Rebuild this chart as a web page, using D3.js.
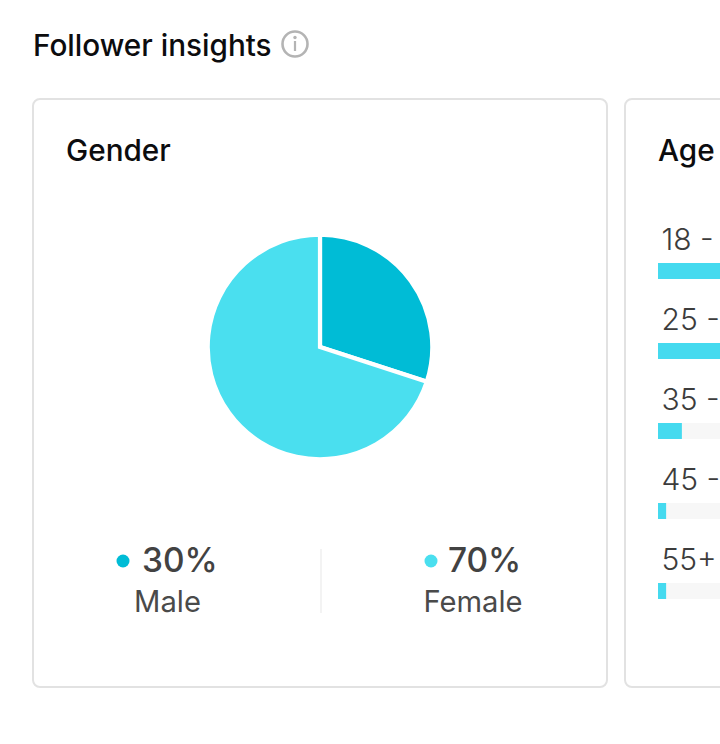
<!DOCTYPE html>
<html><head><meta charset="utf-8">
<script src="https://cdn.jsdelivr.net/npm/d3@7/dist/d3.min.js"></script>
<style>html,body{margin:0;padding:0;background:#fff;overflow:hidden}svg{display:block}text{font-family:Inter,"Noto Sans",sans-serif}</style>
</head><body><svg id="c" width="720" height="744"></svg>
<script>
const genderLabels = ["Male", "Female"];
const genderValues = [30, 70];
const genderColors = ["#00bcd6", "#4adfef"];
const ageLabels = ["18 - 24", "25 - 34", "35 - 44", "45 - 54", "55+"];
const ageValues = [45, 44, 4.7, 1.6, 1.6];

const svg = d3.select("#c");
const text = (x, y, s, size, fill, weight, anchor) => svg.append("text")
  .attr("x", x).attr("y", y).attr("font-size", size).attr("fill", fill)
  .attr("font-weight", weight || 400).attr("text-anchor", anchor || "start").text(s);

text(33, 55.5, "Follower insights", 29.7, "#0c0c0e", 500);
// info icon
svg.append("circle").attr("cx", 295).attr("cy", 44).attr("r", 12.5).attr("fill", "none").attr("stroke", "#b4b4b4").attr("stroke-width", 2.6);
svg.append("circle").attr("cx", 295).attr("cy", 37.5).attr("r", 1.7).attr("fill", "#b4b4b4");
svg.append("rect").attr("x", 293.9).attr("y", 41).attr("width", 2.2).attr("height", 10).attr("fill", "#b4b4b4");

// cards
[[33, 574], [625, 574]].forEach(([x, w]) => svg.append("rect")
  .attr("x", x).attr("y", 99).attr("width", w).attr("height", 588).attr("rx", 7)
  .attr("fill", "#fff").attr("stroke", "#e2e2e2").attr("stroke-width", 2));

text(66, 161, "Gender", 29.7, "#0c0c0e", 500);
text(658, 161, "Age", 29.7, "#0c0c0e", 500);

// pie
const pie = d3.pie().sort(null).value(d => d);
const arc = d3.arc().innerRadius(0).outerRadius(112.3);
svg.append("g").attr("transform", "translate(320,347)")
  .selectAll("path").data(pie(genderValues)).join("path")
  .attr("d", arc).attr("fill", (d, i) => genderColors[i])
  .attr("stroke", "#fff").attr("stroke-width", 4.2).attr("stroke-linejoin", "miter");

// legend
const legendX = [123, 431], pctX = [142, 448], nameX = [167.5, 473];
genderLabels.forEach((g, i) => {
  svg.append("circle").attr("cx", legendX[i]).attr("cy", 561).attr("r", 6.5).attr("fill", genderColors[i]);
  text(pctX[i], 572, genderValues[i] + "%", 33.4, "#424242", 500);
  text(nameX[i], 612, g, 29.2, "#4a4a4a", 400, "middle");
});
svg.append("line").attr("x1", 321).attr("x2", 321).attr("y1", 549).attr("y2", 613).attr("stroke", "#efefef").attr("stroke-width", 1.5);

// age bars
const x = d3.scaleLinear().domain([0, 100]).range([0, 508]);
const rowY = d3.scalePoint().domain(ageLabels).range([263, 583]);
const rows = svg.append("g").attr("transform", "translate(658,0)")
  .selectAll("g").data(ageLabels).join("g");
rows.append("rect").attr("y", d => rowY(d)).attr("width", x(100)).attr("height", 16).attr("fill", "#f7f7f7");
rows.append("rect").attr("y", d => rowY(d)).attr("width", (d, i) => x(ageValues[i])).attr("height", 16).attr("fill", "#45daef");
rows.append("text").attr("x", 3.5).attr("y", d => rowY(d) - 13.5).attr("font-size", 30).attr("font-weight", 300).attr("fill", "#3c3c3c").text(d => d);
</script></body></html>
